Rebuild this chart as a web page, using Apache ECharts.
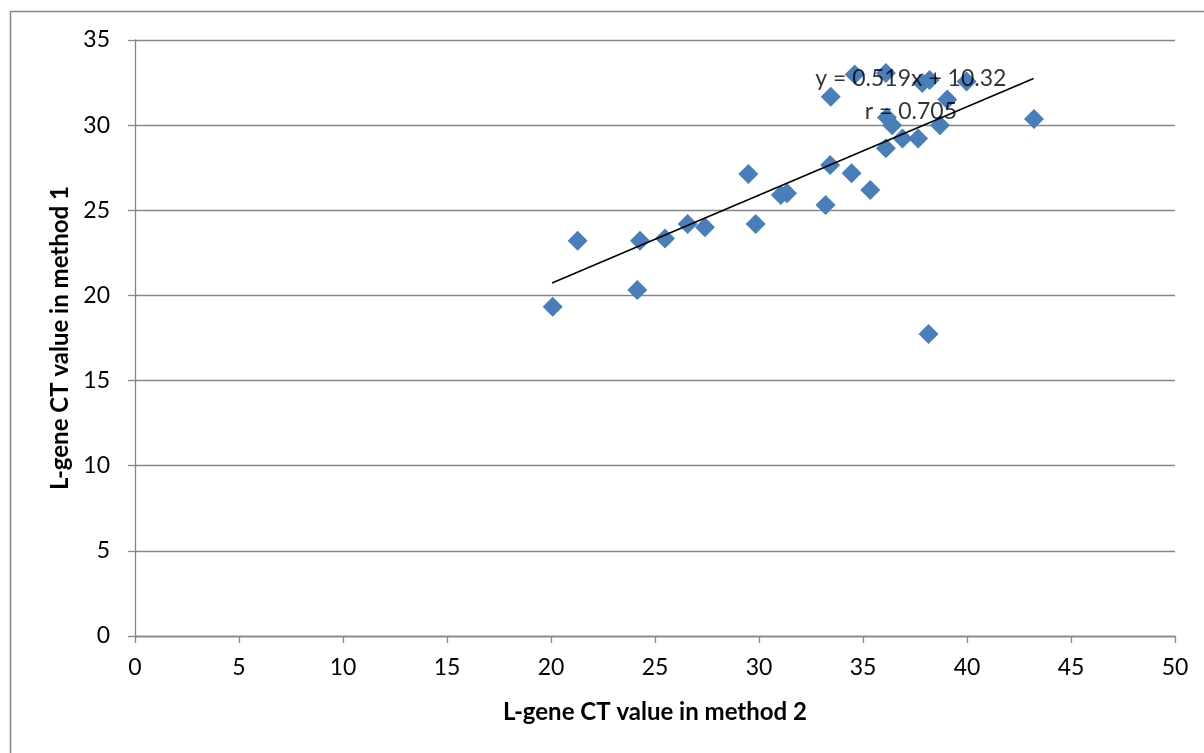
<!DOCTYPE html>
<html>
<head>
<meta charset="utf-8">
<script src="https://cdn.jsdelivr.net/npm/echarts@6/dist/echarts.min.js"></script>
<style>
html,body{margin:0;padding:0;background:#fff;}
#chart{width:1204px;height:753px;}
</style>
</head>
<body>
<div id="chart"></div>
<script>
// Data: L-gene CT values (method 2 on x, method 1 on y)
const method2 = [20.08, 21.28, 24.15, 24.28, 25.48, 26.57, 27.4, 29.49, 29.84, 31.05, 31.35, 33.2, 33.45, 33.42, 34.45, 34.6, 35.35, 36.1, 36.15, 36.1, 36.4, 36.9, 37.65, 37.85, 38.2, 38.15, 38.7, 39.05, 39.98, 43.22];
const method1 = [19.34, 23.21, 20.32, 23.21, 23.35, 24.19, 24.0, 27.13, 24.19, 25.9, 26.0, 25.31, 31.67, 27.66, 27.17, 32.97, 26.19, 33.06, 30.45, 28.64, 30.0, 29.22, 29.22, 32.47, 32.65, 17.73, 30.0, 31.5, 32.56, 30.36];
const trendSlope = 0.519;
const trendIntercept = 10.32;
const trendX = [20.05, 43.2];
const eqLines = ['y = 0.519x + 10.32', 'r = 0.705'];
const xTitle = 'L-gene CT value in method 2';
const yTitle = 'L-gene CT value in method 1';

const points = method2.map((x, i) => [x, method1[i]]);
const trendPts = trendX.map(x => [x, trendSlope * x + trendIntercept]);
const FONT = 'Lato';
const AXIS = '#868686';

const chart = echarts.init(document.getElementById('chart'), null, {renderer: 'canvas'});
chart.setOption({
  animation: false,
  backgroundColor: '#fff',
  textStyle: {fontFamily: FONT},
  grid: {left: 135, right: 29, top: 40, bottom: 117},
  graphic: [{
    type: 'rect', z: 100, silent: true,
    shape: {x: 10.5, y: 11.5, width: 1400, height: 900},
    style: {fill: 'none', stroke: AXIS, lineWidth: 1.5}
  }],
  xAxis: {
    type: 'value', min: 0, max: 50, interval: 5,
    name: xTitle, nameLocation: 'middle', nameGap: 64,
    nameTextStyle: {fontFamily: FONT, fontWeight: 'bold', fontSize: 24, color: '#000'},
    axisLine: {show: true, onZero: false, lineStyle: {color: AXIS, width: 1.3}},
    axisTick: {show: true, inside: false, length: 7, lineStyle: {color: AXIS, width: 1.3}},
    axisLabel: {fontFamily: FONT, fontSize: 23, color: '#000', margin: 20},
    splitLine: {show: false}
  },
  yAxis: {
    type: 'value', min: 0, max: 35, interval: 5,
    name: yTitle, nameLocation: 'middle', nameGap: 58, nameRotate: 90,
    nameTextStyle: {fontFamily: FONT, fontWeight: 'bold', fontSize: 24, color: '#000'},
    axisLine: {show: true, onZero: false, lineStyle: {color: AXIS, width: 1.3}},
    axisTick: {show: true, inside: false, length: 7, lineStyle: {color: AXIS, width: 1.3}},
    axisLabel: {fontFamily: FONT, fontSize: 23, color: '#000', margin: 25},
    splitLine: {show: true, lineStyle: {color: AXIS, width: 1.3}}
  },
  series: [
    {
      type: 'scatter', data: points, symbol: 'diamond', symbolSize: 20,
      itemStyle: {color: '#4A7EBB', opacity: 1}, z: 3
    },
    {
      type: 'line', data: trendPts, symbol: 'none', silent: true,
      lineStyle: {color: '#000', width: 1.6}, z: 4
    },
    {
      type: 'scatter', symbolSize: 0, silent: true, z: 5,
      data: [
        {value: [37.3, 32.75], label: {formatter: eqLines[0]}},
        {value: [37.3, 30.8], label: {formatter: eqLines[1]}}
      ],
      label: {show: true, position: 'inside', fontFamily: FONT, fontSize: 23, color: '#000'}
    }
  ]
});
</script>
</body>
</html>
